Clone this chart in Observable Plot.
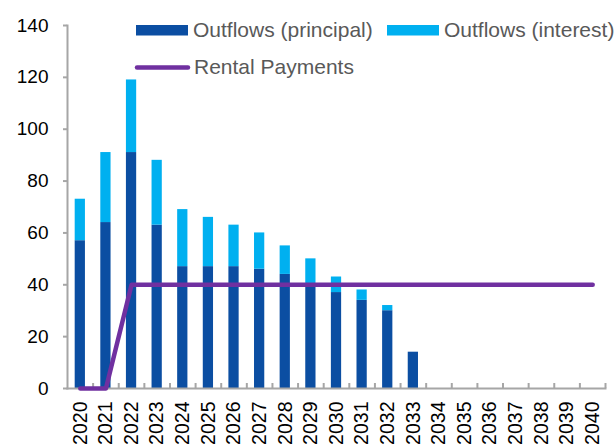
<!DOCTYPE html>
<html><head><meta charset="utf-8">
<script src="https://cdn.jsdelivr.net/npm/d3@7"></script>
<script src="https://cdn.jsdelivr.net/npm/@observablehq/plot@0.6"></script>
<style>
html,body{margin:0;padding:0;background:#fff;}
#chart{position:relative;width:616px;height:448px;overflow:hidden;}
</style>
</head><body><div id="chart"></div>
<script>
const years = ["2020","2021","2022","2023","2024","2025","2026","2027","2028","2029","2030","2031","2032","2033","2034","2035","2036","2037","2038","2039","2040"];
const principal = [57,64,91,63,47,47,47,46,44,40,37,34,30,14,0,0,0,0,0,0,0];
const interest  = [16,27,28,25,22,19,16,14,11,10,6,4,2,0,0,0,0,0,0,0,0];
const rental    = [0,0,40,40,40,40,40,40,40,40,40,40,40,40,40,40,40,40,40,40,40];
const yTicks = [0,20,40,60,80,100,120,140];
const seriesNames = ["Outflows (principal)","Outflows (interest)","Rental Payments"];
const colors = ["#0B4EA2","#00B0F0","#7030A0"];

const bars = [];
years.forEach((y,i)=>{
  bars.push({year:y, series:seriesNames[0], value:principal[i]});
  bars.push({year:y, series:seriesNames[1], value:interest[i]});
});
const line = years.map((y,i)=>({year:y, value:rental[i]}));

const W=616, H=448, mL=67, mR=11, mT=25, mB=60;
const step = (W-mL-mR)/years.length;
const inset = step*0.3;

const plot = Plot.plot({
  width:W, height:H,
  marginLeft:mL, marginRight:mR, marginTop:mT, marginBottom:mB,
  style:{fontFamily:"'Liberation Sans', Arial, sans-serif", background:"#fff", color:"#000"},
  x:{type:"band", domain:years, padding:0, round:false},
  y:{domain:[0,140]},
  color:{domain:seriesNames.slice(0,2), range:colors.slice(0,2)},
  marks:[
    Plot.barY(bars,{x:"year", y:"value", fill:"series", order:seriesNames.slice(0,2), insetLeft:inset, insetRight:inset}),
    Plot.frame({anchor:"left", stroke:"#A6A6A6", strokeWidth:2}),
    Plot.frame({anchor:"bottom", stroke:"#A6A6A6", strokeWidth:2}),
    Plot.axisY({ticks:yTicks, tickSize:4, tickPadding:15, fontSize:19, stroke:"#A6A6A6", strokeWidth:2, label:null, color:"#000"}),
    Plot.axisX({tickSize:-5, tickFormat:()=>"", dx:step/2, stroke:"#A6A6A6", strokeWidth:2, label:null}),
    Plot.axisX({tickSize:0, tickRotate:-90, tickPadding:13, fontSize:19.5, label:null, color:"#000"}),
    Plot.line(line,{x:"year", y:"value", stroke:colors[2], strokeWidth:4.5, strokeLinecap:"round", strokeLinejoin:"round"})
  ]
});
document.getElementById("chart").appendChild(plot);

// legend overlay
const svg = d3.select(plot);
const lg = svg.append("g").attr("font-family","'Liberation Sans', Arial, sans-serif").attr("font-size",21).attr("fill","#595959").attr("text-anchor","start");
lg.append("rect").attr("x",136).attr("y",25).attr("width",52).attr("height",10.5).attr("fill",colors[0]);
lg.append("text").attr("x",193).attr("y",37).text(seriesNames[0]);
lg.append("rect").attr("x",387).attr("y",25).attr("width",52).attr("height",10.5).attr("fill",colors[1]);
lg.append("text").attr("x",444).attr("y",37).text(seriesNames[1]);
lg.append("line").attr("x1",137).attr("x2",188).attr("y1",67.5).attr("y2",67.5).attr("stroke",colors[2]).attr("stroke-width",4.5).attr("stroke-linecap","round");
lg.append("text").attr("x",194).attr("y",74).text(seriesNames[2]);
</script>
</body></html>
